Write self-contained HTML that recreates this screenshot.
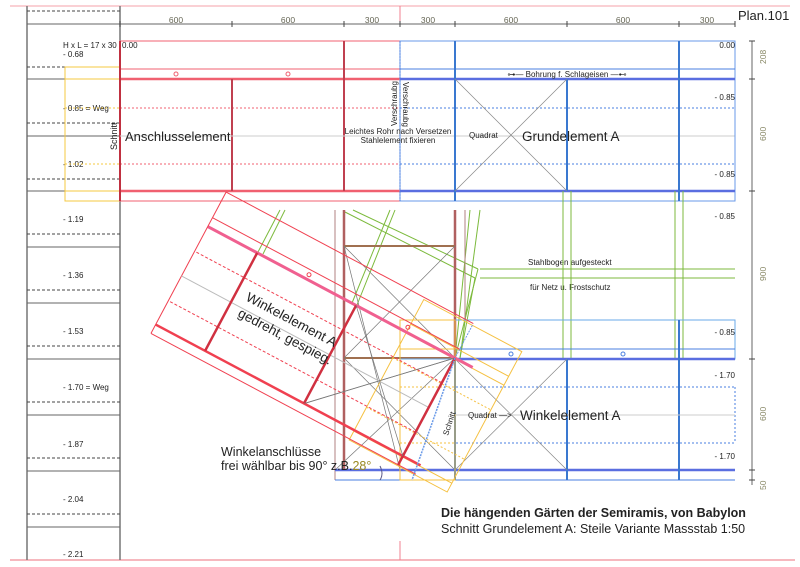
<!DOCTYPE html>
<html><head><meta charset="utf-8"><style>
html,body{margin:0;padding:0;background:#fff}
svg{display:block}
text{font-family:"Liberation Sans",sans-serif;fill:#222}
</style></head><body>
<svg width="800" height="567" viewBox="0 0 800 567" xmlns="http://www.w3.org/2000/svg">
<line x1="10" y1="6" x2="790" y2="6" stroke="#f4a0a8" stroke-width="1"/>
<line x1="10" y1="560" x2="795" y2="560" stroke="#f4a0a8" stroke-width="1.5"/>
<line x1="400" y1="6" x2="400" y2="24" stroke="#f08090"/>
<line x1="400" y1="541" x2="400" y2="560" stroke="#f08090"/>
<g stroke="#777" stroke-width="1.5">
<line x1="27" y1="6" x2="27" y2="560"/><line x1="120" y1="6" x2="120" y2="560"/>
</g>
<g stroke="#666" stroke-width="1">
<line x1="27" y1="24" x2="120" y2="24"/><line x1="27" y1="79" x2="120" y2="79"/><line x1="27" y1="136" x2="120" y2="136"/><line x1="27" y1="191" x2="120" y2="191"/><line x1="27" y1="247" x2="120" y2="247"/><line x1="27" y1="303" x2="120" y2="303"/><line x1="27" y1="359" x2="120" y2="359"/><line x1="27" y1="415" x2="120" y2="415"/><line x1="27" y1="471" x2="120" y2="471"/><line x1="27" y1="527" x2="120" y2="527"/>
</g>
<g stroke="#444" stroke-width="1" stroke-dasharray="3,2">
<line x1="27" y1="11" x2="120" y2="11"/><line x1="27" y1="67" x2="120" y2="67"/><line x1="27" y1="123" x2="120" y2="123"/><line x1="27" y1="179" x2="120" y2="179"/><line x1="27" y1="234" x2="120" y2="234"/><line x1="27" y1="290" x2="120" y2="290"/><line x1="27" y1="346" x2="120" y2="346"/><line x1="27" y1="402" x2="120" y2="402"/><line x1="27" y1="458" x2="120" y2="458"/><line x1="27" y1="514" x2="120" y2="514"/>
</g>
<g font-size="8">
<text x="63" y="48">H x L = 17 x 30</text><text x="63" y="57">- 0.68</text>
<text x="63" y="111">- 0.85 = Weg</text><text x="63" y="167">- 1.02</text>
<text x="63" y="222">- 1.19</text><text x="63" y="278">- 1.36</text><text x="63" y="334">- 1.53</text>
<text x="63" y="390">- 1.70 = Weg</text><text x="63" y="447">- 1.87</text><text x="63" y="502">- 2.04</text><text x="63" y="557">- 2.21</text>
</g>
<rect x="65" y="67" width="55" height="134" fill="none" stroke="#f5c842" stroke-width="1"/>
<line x1="65" y1="79" x2="120" y2="79" stroke="#f5c842" stroke-width="1"/>
<line x1="65" y1="191" x2="120" y2="191" stroke="#f5c842" stroke-width="1"/>
<g stroke="#f5c842" stroke-dasharray="2,2"><line x1="65" y1="108" x2="120" y2="108"/><line x1="65" y1="164" x2="120" y2="164"/></g>
<line x1="120" y1="24" x2="735" y2="24" stroke="#666"/>
<g stroke="#444"><line x1="120" y1="21" x2="120" y2="27"/><line x1="232" y1="21" x2="232" y2="27"/><line x1="344" y1="21" x2="344" y2="27"/><line x1="400" y1="21" x2="400" y2="27"/><line x1="455" y1="21" x2="455" y2="27"/><line x1="567" y1="21" x2="567" y2="27"/><line x1="679" y1="21" x2="679" y2="27"/><line x1="735" y1="21" x2="735" y2="27"/></g>
<g font-size="8.5" text-anchor="middle"><text x="176" y="23" style="fill:#665">600</text><text x="288" y="23" style="fill:#665">600</text><text x="372" y="23" style="fill:#665">300</text><text x="428" y="23" style="fill:#665">300</text><text x="511" y="23" style="fill:#665">600</text><text x="623" y="23" style="fill:#665">600</text><text x="707" y="23" style="fill:#665">300</text></g>
<text x="738" y="20" font-size="13">Plan.101</text>
<line x1="752" y1="41" x2="752" y2="485" stroke="#666"/>
<g stroke="#444"><line x1="749" y1="41" x2="755" y2="41"/><line x1="749" y1="79" x2="755" y2="79"/><line x1="749" y1="191" x2="755" y2="191"/><line x1="749" y1="359" x2="755" y2="359"/><line x1="749" y1="470" x2="755" y2="470"/><line x1="749" y1="480" x2="755" y2="480"/></g>
<g font-size="8.5"><text transform="translate(766,64) rotate(-90)" style="fill:#886">208</text><text transform="translate(766,141) rotate(-90)" style="fill:#886">600</text><text transform="translate(766,281) rotate(-90)" style="fill:#886">900</text><text transform="translate(766,421) rotate(-90)" style="fill:#886">600</text><text transform="translate(766,490) rotate(-90)" style="fill:#886">50</text></g>
<g stroke="#f06070" fill="none">
<rect x="120" y="41" width="280" height="160" stroke-width="1"/>
<line x1="120" y1="69" x2="400" y2="69"/>
<line x1="120" y1="79" x2="400" y2="79" stroke-width="2.5"/>
<line x1="120" y1="191" x2="400" y2="191" stroke-width="2.5"/>
<line x1="120" y1="108" x2="400" y2="108" stroke-dasharray="2,2"/>
<line x1="120" y1="164" x2="400" y2="164" stroke-dasharray="2,2"/>
<line x1="120" y1="41" x2="120" y2="201" stroke="#c03040" stroke-width="2"/>
<line x1="232" y1="79" x2="232" y2="191" stroke="#c04050" stroke-width="2"/>
<line x1="344" y1="41" x2="344" y2="191" stroke="#c04050" stroke-width="2"/>
<circle cx="176" cy="74" r="2"/><circle cx="288" cy="74" r="2"/>
</g>
<line x1="120" y1="136" x2="735" y2="136" stroke="#ccc"/>
<g stroke="#4a7fe0" fill="none">
<rect x="400" y="41" width="335" height="160" stroke="#6a9ae8"/>
<line x1="400" y1="69" x2="735" y2="69"/>
<line x1="400" y1="79" x2="735" y2="79" stroke="#5a6ee0" stroke-width="2.5"/>
<line x1="400" y1="191" x2="735" y2="191" stroke="#5a6ee0" stroke-width="2.5"/>
<line x1="400" y1="108" x2="735" y2="108" stroke-dasharray="2,2"/>
<line x1="400" y1="164" x2="735" y2="164" stroke-dasharray="2,2"/>
<line x1="400" y1="41" x2="400" y2="201" stroke-dasharray="2,1"/>
<line x1="455" y1="41" x2="455" y2="201" stroke="#3a78d0" stroke-width="2"/>
<line x1="567" y1="79" x2="567" y2="191" stroke="#3a78d0" stroke-width="2"/>
<line x1="679" y1="41" x2="679" y2="201" stroke="#3a78d0" stroke-width="2"/>
</g>
<g stroke="#888" stroke-width="0.7"><line x1="455" y1="79" x2="567" y2="191"/><line x1="567" y1="79" x2="455" y2="191"/></g>
<g font-size="8" fill="#333">
<text x="122" y="48">0.00</text><text x="735" y="48" text-anchor="end">0.00</text>
<text x="567" y="77" text-anchor="middle">⊶— Bohrung f. Schlageisen —⊷</text>
<text x="735" y="100" text-anchor="end">- 0.85</text><text x="735" y="177" text-anchor="end">- 0.85</text>
<text x="735" y="219" text-anchor="end">- 0.85</text><text x="735" y="335" text-anchor="end">- 0.85</text>
<text x="735" y="378" text-anchor="end">- 1.70</text><text x="735" y="459" text-anchor="end">- 1.70</text>
<text x="398" y="134" text-anchor="middle">Leichtes Rohr nach Versetzen</text>
<text x="398" y="143" text-anchor="middle">Stahlelement fixieren</text>
<text x="469" y="138">Quadrat</text>
<text transform="translate(397,126) rotate(-90)">Verschraubg</text>
<text transform="translate(403,82) rotate(90)">Verschraubg</text>
<text transform="translate(117,150) rotate(-90)" font-size="9">Schnitt</text>
<text x="528" y="265">Stahlbogen aufgesteckt</text>
<text x="530" y="290">für Netz u. Frostschutz</text>
</g>
<text x="125" y="141" font-size="13">Anschlusselement</text>
<text x="522" y="141" font-size="13.5">Grundelement A</text>
<g stroke="#7cba3c" fill="none" stroke-width="1">
<line x1="563" y1="191" x2="563" y2="359"/><line x1="571" y1="191" x2="571" y2="359"/>
<line x1="675" y1="191" x2="675" y2="359"/><line x1="683" y1="191" x2="683" y2="359"/>
<line x1="480" y1="269" x2="735" y2="269"/><line x1="480" y1="278" x2="735" y2="278"/>
<line x1="353" y1="210" x2="478" y2="269"/><line x1="345" y1="212" x2="475" y2="278"/>
<line x1="478" y1="269" x2="455" y2="358"/><line x1="475" y1="278" x2="460" y2="358"/>
<line x1="470" y1="210" x2="455" y2="358"/><line x1="480" y1="210" x2="460" y2="358"/>
<line x1="263" y1="254" x2="285" y2="210"/><line x1="258" y1="252" x2="280" y2="210"/>
<line x1="357" y1="305" x2="395" y2="210"/><line x1="352" y1="303" x2="390" y2="210"/>
</g>
<g stroke="#b08080" fill="none">
<line x1="335" y1="210" x2="335" y2="480"/>
<line x1="344" y1="210" x2="344" y2="470" stroke="#b06060" stroke-width="2.5"/>
<line x1="455" y1="210" x2="455" y2="358" stroke="#b06060" stroke-width="2.5"/>
<line x1="465" y1="210" x2="465" y2="320"/>
<line x1="344" y1="246" x2="455" y2="246" stroke="#a07050" stroke-width="2"/>
<line x1="344" y1="358" x2="455" y2="358" stroke="#a07050" stroke-width="2"/>
</g>
<g stroke="#777" stroke-width="0.7">
<line x1="344" y1="246" x2="455" y2="358"/><line x1="455" y1="246" x2="344" y2="358"/>
<line x1="344" y1="358" x2="455" y2="470"/><line x1="335" y1="470" x2="455" y2="358"/>
<line x1="303" y1="404" x2="455" y2="358"/><line x1="344" y1="246" x2="400" y2="470"/>
</g>
<g stroke="#4a7fe0" fill="none">
<rect x="400" y="320" width="335" height="39" stroke="#6aaae8"/>
<line x1="400" y1="349" x2="735" y2="349"/>
<line x1="455" y1="359" x2="735" y2="359" stroke="#5a6ee0" stroke-width="2.5"/>
<line x1="335" y1="470" x2="735" y2="470" stroke="#5a6ee0" stroke-width="2.5"/>
<line x1="335" y1="480" x2="735" y2="480"/>
<line x1="400" y1="387" x2="735" y2="387" stroke-dasharray="2,2"/>
<line x1="400" y1="443" x2="735" y2="443" stroke-dasharray="2,2"/>
<line x1="735" y1="387" x2="735" y2="443" stroke-dasharray="2,2"/>
<line x1="455" y1="358" x2="455" y2="480" stroke="#3a78d0" stroke-width="2"/>
<line x1="567" y1="359" x2="567" y2="480" stroke="#3a78d0" stroke-width="2"/>
<line x1="679" y1="320" x2="679" y2="480" stroke="#3a78d0" stroke-width="2"/>
<circle cx="511" cy="354" r="2"/><circle cx="623" cy="354" r="2"/>
</g>
<g stroke="#888" stroke-width="0.7"><line x1="455" y1="359" x2="567" y2="470"/><line x1="567" y1="359" x2="455" y2="470"/></g>
<line x1="455" y1="415" x2="735" y2="415" stroke="#ccc"/>
<g transform="rotate(28,455,358)" stroke="#f5c040" fill="none">
<rect x="400" y="321" width="111" height="159"/>
<line x1="400" y1="349" x2="511" y2="349"/><line x1="400" y1="359" x2="511" y2="359"/>
<line x1="400" y1="470" x2="511" y2="470"/>
<line x1="400" y1="387" x2="511" y2="387" stroke-dasharray="2,2"/><line x1="400" y1="443" x2="511" y2="443" stroke-dasharray="2,2"/>
<line x1="455" y1="321" x2="455" y2="480" stroke="#6a9ae8" stroke-dasharray="2,1"/>
</g>
<g stroke="#f5c040" fill="none"><rect x="400" y="320" width="55" height="160"/><line x1="400" y1="387" x2="455" y2="387" stroke-dasharray="2,2"/><line x1="400" y1="443" x2="455" y2="443" stroke-dasharray="2,2"/><line x1="400" y1="349" x2="455" y2="349"/></g>
<g transform="translate(455,358) rotate(208) scale(1,-1)" stroke="#f04050" fill="none">
<line x1="-20" y1="0" x2="280" y2="0" stroke="#f06090" stroke-width="3"/>
<line x1="0" y1="-10" x2="280" y2="-10"/>
<line x1="0" y1="-39" x2="280" y2="-39"/>
<line x1="-20" y1="111" x2="280" y2="111" stroke-width="2.5"/>
<line x1="-20" y1="121" x2="280" y2="121"/>
<line x1="280" y1="-39" x2="280" y2="121"/>
<line x1="0" y1="28" x2="280" y2="28" stroke-dasharray="3,2"/>
<line x1="0" y1="84" x2="280" y2="84" stroke-dasharray="3,2"/>
<line x1="0" y1="56" x2="280" y2="56" stroke="#bbb"/>
<line x1="112" y1="0" x2="112" y2="111" stroke="#d03040" stroke-width="2.5"/>
<line x1="224" y1="0" x2="224" y2="111" stroke="#d03040" stroke-width="2.5"/>
<line x1="0" y1="0" x2="0" y2="121" stroke="#d03040" stroke-width="2.5"/>
<line x1="0" y1="0" x2="112" y2="111" stroke="#777" stroke-width="0.7"/>
<line x1="112" y1="0" x2="0" y2="111" stroke="#777" stroke-width="0.7"/>
<circle cx="168" cy="-5" r="2"/><circle cx="56" cy="-5" r="2"/>
</g>
<line x1="455" y1="358" x2="412" y2="480" stroke="#6a9ae8" stroke-dasharray="2,1" stroke-width="1.5"/>
<text transform="translate(448,436) rotate(-72)" font-size="8">Schnitt</text>
<text transform="translate(245,300) rotate(28)" font-size="13.5">Winkelelement A</text>
<text transform="translate(237,316) rotate(28)" font-size="13.5">gedreht, gespieg.</text>
<text x="468" y="418" font-size="8">Quadrat —&gt;</text>
<text x="520" y="420" font-size="13.5">Winkelelement A</text>
<text x="221" y="456" font-size="12.5">Winkelanschlüsse</text>
<text x="221" y="470" font-size="12.5">frei wählbar bis 90°  z.B.<tspan style="fill:#998820">28°</tspan></text>
<path d="M380 466 Q384 474 380 480" stroke="#558" fill="none"/>
<text x="441" y="517" font-size="12.5" font-weight="bold">Die hängenden Gärten der Semiramis, von Babylon</text>
<text x="441" y="533" font-size="12.5">Schnitt Grundelement A: Steile Variante Massstab 1:50</text>
</svg>
</body></html>
